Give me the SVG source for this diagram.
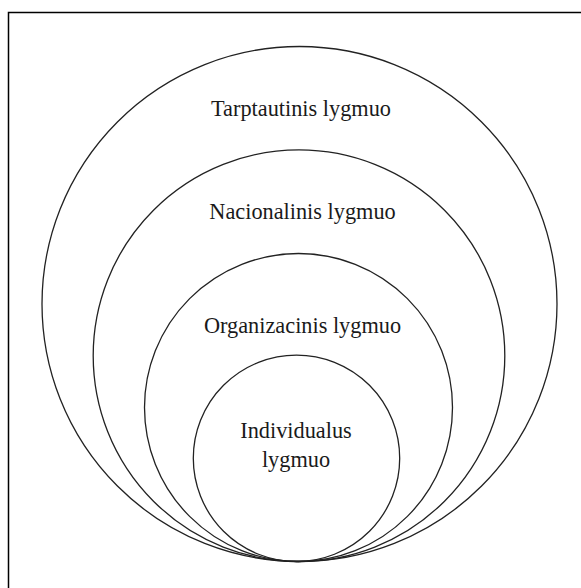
<svg xmlns="http://www.w3.org/2000/svg" width="581" height="588" viewBox="0 0 581 588">
<style>
.c{fill:none;stroke:#222;stroke-width:1.3}
.t{font-family:"Liberation Serif","Times New Roman",serif;font-size:22.3px;fill:#1a1a1a;text-anchor:middle}
</style>
<rect width="581" height="588" fill="#fff"/>
<path d="M8.5,588 V12.5 H581" fill="none" stroke="#000" stroke-width="1.5"/>
<g id="tarptautinis">
<circle class="c" cx="299.5" cy="304" r="257.5"/>
<text class="t" x="301" y="116">Tarptautinis lygmuo</text>
</g>
<g id="nacionalinis">
<circle class="c" cx="299" cy="355.7" r="205.8"/>
<text class="t" x="302.5" y="219">Nacionalinis lygmuo</text>
</g>
<g id="organizacinis">
<circle class="c" cx="298.5" cy="407.5" r="154"/>
<text class="t" x="302.5" y="333">Organizacinis lygmuo</text>
</g>
<g id="individualus">
<circle class="c" cx="296.5" cy="458.3" r="103.2"/>
<text class="t" x="296" y="438">Individualus</text>
<text class="t" x="296" y="467">lygmuo</text>
</g>
<g id="connectors"/>
</svg>
